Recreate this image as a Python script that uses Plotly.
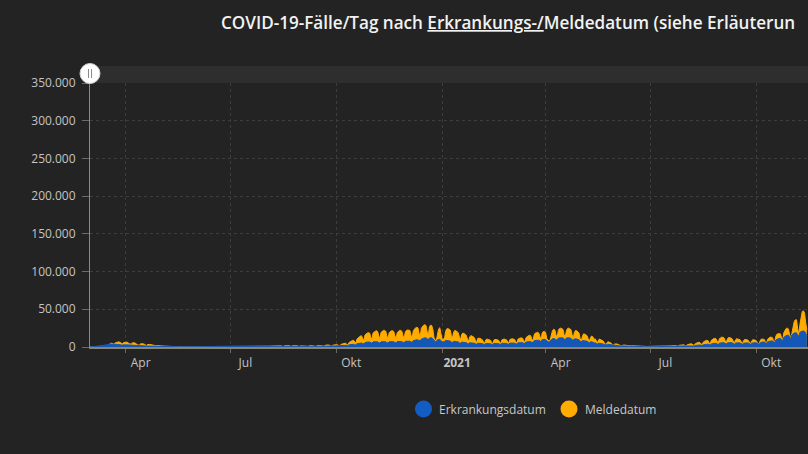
import pandas as pd
import plotly.graph_objects as go

# Meldedatum (Tausend Fälle/Tag), täglich ab So 01.03.2020
melde_k = [
    # 2020-03
    0.0,0.1,0.1,0.1,0.2,0.2,0.2, 0.3,0.5,0.6,0.7,0.9,1.2,1.5, 1.6,2.4,3.0,3.8,4.5,5.2,4.0,
    3.5,5.6,6.2,6.5,6.8,6.2,4.8, 4.2,5.5,6.5,
    # 2020-04
    6.4,6.3,6.0,4.5, 3.8,4.8,5.5,5.8,5.4,4.0,3.2, 2.6,2.8,4.2,4.6,4.2,3.8,2.6,
    2.0,3.2,3.6,3.4,3.1,2.7,1.8, 1.2,1.8,1.9,1.7,1.6,
    # 2020-05
    1.2,0.8, 0.6,1.0,1.1,1.1,1.0,0.9,0.6, 0.4,0.8,0.9,0.8,0.8,0.7,0.5,
    0.3,0.6,0.7,0.6,0.5,0.6,0.4, 0.3,0.4,0.5,0.5,0.5,0.4,0.3, 0.2,
    # 2020-06
    0.2,0.4,0.4,0.4,0.4,0.3, 0.2,0.3,0.4,0.4,0.4,0.4,0.3, 0.2,0.4,0.5,0.6,0.7,0.8,0.5,
    0.4,0.6,0.7,0.6,0.6,0.5,0.3, 0.2,0.4,0.5,
    # 2020-07
    0.5,0.4,0.4,0.3, 0.2,0.4,0.4,0.5,0.5,0.4,0.3, 0.2,0.4,0.5,0.5,0.6,0.6,0.4,
    0.3,0.6,0.7,0.8,0.8,0.8,0.6, 0.4,0.8,0.9,1.0,1.0,1.0,
    # 2020-08
    0.7, 0.4,1.0,1.1,1.2,1.3,1.3,0.9, 0.6,1.3,1.5,1.6,1.6,1.5,1.0,
    0.7,1.6,1.8,1.8,1.9,1.8,1.2, 0.8,1.6,1.8,1.9,1.8,1.7,1.1, 0.7,1.5,
    # 2020-09
    1.6,1.7,1.7,1.6,1.1, 0.7,1.6,1.8,1.9,1.9,1.8,1.2, 0.8,1.8,2.0,2.1,2.2,2.1,1.5,
    1.0,2.2,2.5,2.6,2.7,2.5,1.7, 1.1,2.4,2.8,3.0,
    # 2020-10
    3.0,2.9,2.0, 1.5,3.4,4.0,4.5,5.0,5.2,3.6, 2.6,5.8,7.0,7.8,8.6,9.0,6.4,
    5.0,10.5,12.0,13.5,14.5,14.8,10.5, 8.0,16.0,17.5,18.5,19.0,18.5,13.0,
    # 2020-11
    10.0,18.5,20.0,21.0,21.5,20.5,14.5, 11.0,19.5,21.5,22.0,22.0,21.0,14.5,
    11.0,19.0,21.0,21.5,21.5,20.5,14.5, 11.5,19.0,21.0,22.0,22.0,21.0,14.8, 11.5,19.5,
    # 2020-12
    22.0,22.5,22.5,22.0,15.5, 12.0,21.5,24.5,25.5,26.0,25.5,18.0,
    14.0,25.0,28.0,29.0,29.5,28.5,20.0, 15.5,26.5,29.0,28.5,23.0,12.0,9.0,
    8.5,19.0,24.0,25.5,18.0,
    # 2021-01
    10.0,11.0, 10.0,20.5,24.0,24.5,23.5,22.5,15.5, 11.5,19.5,22.0,21.5,20.5,19.0,13.0,
    9.5,16.5,18.5,18.0,17.0,15.5,10.5, 7.5,13.5,15.0,14.5,13.5,12.5,8.5, 6.0,
    # 2021-02
    11.5,12.0,11.5,10.5,9.5,6.5, 5.0,9.5,10.5,10.0,9.5,9.0,6.0,
    4.5,9.0,10.0,9.8,9.5,9.0,6.3, 5.0,9.5,10.5,10.5,10.0,9.5,6.8, 5.3,
    # 2021-03
    10.0,11.0,11.0,10.5,10.0,7.0, 5.5,10.5,11.5,12.0,12.0,11.5,8.0,
    6.5,12.5,14.0,15.0,15.5,15.0,10.5, 8.0,16.0,18.5,19.0,19.5,18.5,13.0, 9.5,18.5,20.5,20.5,
    # 2021-04
    19.0,11.0,9.0, 7.5,10.0,17.5,22.0,23.5,22.5,16.0, 12.0,22.0,24.5,25.0,24.5,23.5,16.5,
    12.5,21.5,24.5,25.0,24.0,23.0,16.0, 11.5,19.5,22.0,21.5,20.0,18.5,
    # 2021-05
    11.0, 8.0,14.5,17.5,17.0,16.0,15.0,10.5, 7.5,12.5,14.5,13.5,10.0,11.0,8.0,
    5.5,9.5,10.5,9.5,9.0,8.0,5.5, 3.5,4.5,7.0,6.5,6.0,5.0,3.5, 2.5,4.0,
    # 2021-06
    4.5,4.0,3.3,2.8,2.0, 1.4,2.4,2.7,2.5,2.2,2.0,1.4, 1.0,1.6,1.7,1.6,1.4,1.3,0.9,
    0.6,1.0,1.1,1.0,0.9,0.8,0.6, 0.4,0.7,0.8,0.8,
    # 2021-07
    0.8,0.7,0.5, 0.4,0.7,0.8,0.9,0.9,0.9,0.6, 0.4,0.9,1.1,1.3,1.4,1.4,1.0,
    0.6,1.4,1.8,2.0,2.1,2.0,1.5, 0.9,2.2,2.6,2.9,3.0,2.9,2.1,
    # 2021-08
    1.3,3.0,3.7,4.0,4.2,4.1,2.9, 1.9,4.3,5.4,5.8,6.2,6.0,4.2, 2.8,6.5,7.8,8.4,8.8,8.6,6.0,
    4.0,9.0,10.5,11.0,11.5,11.0,7.8, 5.0,11.0,12.5,
    # 2021-09
    13.0,12.8,12.0,8.5, 5.5,11.0,12.5,12.5,12.0,11.0,7.8, 5.0,9.5,11.0,10.5,10.0,9.5,6.8,
    4.3,8.5,10.0,9.8,9.5,9.0,6.3, 4.0,8.0,9.5,9.5,9.3,
    # 2021-10
    8.5,5.8, 3.8,6.5,10.0,10.5,10.5,10.0,7.0, 4.5,10.5,12.5,13.0,13.0,12.5,8.5,
    6.0,14.0,17.0,17.5,18.0,17.5,12.0, 8.5,19.0,23.0,24.5,25.0,24.0,16.5, 11.5,
    # 2021-11
    18.0,29.0,33.5,36.0,36.0,24.5, 17.0,30.0,40.0,47.0,48.0,45.0,32.0, 23.0,
]

# Erkrankungsdatum (Tausend Fälle/Tag), täglich ab So 01.03.2020
erkr_k = [
    # 2020-03
    0.1,0.2,0.2,0.3,0.4,0.5,0.5, 0.7,1.0,1.3,1.6,2.0,2.4,2.5, 2.8,3.4,3.6,3.8,3.9,3.8,3.3,
    3.1,3.7,3.7,3.6,3.5,3.3,2.8, 2.5,3.1,3.0,
    # 2020-04
    2.9,2.8,2.6,2.2, 1.9,2.4,2.3,2.2,2.0,1.8,1.5, 1.3,1.5,1.7,1.6,1.5,1.4,1.1,
    0.9,1.2,1.2,1.1,1.0,0.9,0.7, 0.6,0.8,0.8,0.7,0.7,
    # 2020-05
    0.5,0.4, 0.4,0.6,0.6,0.6,0.5,0.5,0.4, 0.3,0.5,0.5,0.5,0.4,0.4,0.3,
    0.3,0.4,0.4,0.4,0.3,0.3,0.2, 0.2,0.3,0.3,0.3,0.3,0.3,0.2, 0.2,
    # 2020-06
    0.2,0.2,0.2,0.2,0.2,0.2, 0.2,0.2,0.2,0.3,0.3,0.3,0.2, 0.2,0.3,0.4,0.4,0.4,0.4,0.3,
    0.2,0.3,0.3,0.3,0.3,0.3,0.2, 0.2,0.3,0.3,
    # 2020-07
    0.3,0.2,0.2,0.2, 0.2,0.2,0.3,0.3,0.3,0.3,0.2, 0.2,0.3,0.3,0.3,0.3,0.3,0.3,
    0.2,0.4,0.4,0.4,0.4,0.4,0.3, 0.3,0.5,0.5,0.5,0.5,0.5,
    # 2020-08
    0.4, 0.4,0.6,0.6,0.6,0.6,0.6,0.5, 0.5,0.7,0.7,0.7,0.7,0.7,0.6,
    0.5,0.8,0.8,0.8,0.8,0.8,0.6, 0.5,0.8,0.8,0.8,0.8,0.7,0.6, 0.5,0.7,
    # 2020-09
    0.7,0.7,0.7,0.7,0.6, 0.5,0.8,0.8,0.8,0.8,0.8,0.6, 0.6,0.9,0.9,0.9,1.0,0.9,0.7,
    0.7,1.1,1.1,1.1,1.2,1.1,0.9, 0.8,1.3,1.4,1.4,
    # 2020-10
    1.5,1.5,1.2, 1.1,1.8,2.0,2.1,2.2,2.2,1.8, 1.7,2.8,3.2,3.4,3.6,3.6,3.0,
    2.8,4.3,4.8,5.1,5.3,5.3,4.5, 4.2,6.0,6.4,6.6,6.7,6.5,5.5,
    # 2020-11
    5.0,6.8,7.0,7.1,7.0,6.8,5.8, 5.2,7.0,7.2,7.2,7.1,6.9,5.8,
    5.3,7.1,7.3,7.3,7.2,7.0,5.9, 5.4,7.3,7.5,7.5,7.4,7.2,6.1, 5.6,7.6,
    # 2020-12
    7.8,7.9,7.9,7.7,6.6, 6.2,8.5,9.0,9.3,9.5,9.4,8.2,
    7.8,10.5,11.3,11.8,12.2,12.0,10.5, 9.8,12.0,12.5,12.2,10.8,8.0,7.0,
    7.0,9.5,10.0,10.0,8.5,
    # 2021-01
    6.8,7.0, 6.8,8.8,8.8,8.5,8.2,7.9,6.6, 6.0,7.6,7.6,7.3,7.0,6.7,5.6,
    5.0,6.5,6.5,6.3,6.0,5.8,4.8, 4.4,5.6,5.6,5.4,5.2,5.0,4.2, 3.8,
    # 2021-02
    5.0,5.0,4.9,4.7,4.5,3.8, 3.4,4.6,4.7,4.6,4.5,4.4,3.7,
    3.4,4.6,4.7,4.7,4.6,4.5,3.8, 3.6,4.9,5.0,5.0,4.9,4.8,4.0, 3.8,
    # 2021-03
    5.2,5.3,5.3,5.2,5.1,4.3, 4.1,5.6,5.8,5.9,5.9,5.8,4.9,
    4.7,6.6,7.0,7.2,7.3,7.2,6.1, 5.9,8.2,8.7,8.9,9.0,8.8,7.5, 7.2,9.8,10.3,10.2,
    # 2021-04
    9.5,7.5,7.0, 6.5,7.8,10.0,11.0,11.2,11.0,9.5, 9.0,11.8,12.3,12.4,12.3,12.0,10.3,
    9.5,12.0,12.4,12.3,12.0,11.5,9.8, 8.8,10.8,11.0,10.7,10.2,9.6,
    # 2021-05
    7.5, 6.8,8.6,8.6,8.3,7.9,7.5,6.2, 5.5,7.0,6.9,6.5,5.4,5.5,4.6,
    4.1,5.0,4.9,4.6,4.3,4.0,3.2, 2.7,2.9,3.6,3.4,3.1,2.8,2.2, 1.9,2.4,
    # 2021-06
    2.3,2.1,1.8,1.6,1.3, 1.1,1.4,1.4,1.3,1.2,1.1,0.9, 0.7,0.9,0.9,0.8,0.8,0.7,0.6,
    0.5,0.6,0.6,0.6,0.5,0.5,0.4, 0.3,0.4,0.4,0.4,
    # 2021-07
    0.4,0.4,0.3, 0.3,0.4,0.4,0.5,0.5,0.5,0.4, 0.3,0.5,0.6,0.6,0.7,0.7,0.6,
    0.5,0.8,0.9,1.0,1.0,1.0,0.8, 0.7,1.1,1.2,1.3,1.4,1.4,1.1,
    # 2021-08
    0.9,1.5,1.7,1.8,1.9,1.9,1.6, 1.3,2.1,2.4,2.6,2.7,2.7,2.3, 1.9,3.0,3.4,3.6,3.8,3.8,3.2,
    2.6,4.1,4.6,4.8,5.0,4.9,4.1, 3.3,5.1,5.6,
    # 2021-09
    5.8,5.8,5.6,4.7, 3.8,5.5,5.9,5.9,5.8,5.6,4.7, 3.7,5.2,5.6,5.6,5.5,5.3,4.5,
    3.6,5.1,5.5,5.5,5.4,5.3,4.5, 3.6,5.1,5.6,5.7,5.7,
    # 2021-10
    5.6,4.7, 3.8,5.0,6.2,6.5,6.6,6.6,5.6, 4.6,6.9,7.6,7.9,8.1,8.1,6.9,
    5.8,9.2,10.3,10.8,11.2,11.3,9.6, 8.2,12.8,14.3,15.1,15.6,15.7,13.4, 11.0,
    # 2021-11
    16.0,18.0,18.5,18.8,18.8,16.2, 13.8,19.5,20.5,21.0,21.2,20.8,18.0, 15.0,
]

start_date = "2020-03-01"
x_range = ["2020-03-01", "2021-11-15"]
y_ticks = [0, 50000, 100000, 150000, 200000, 250000, 300000, 350000]
x_tick_dates = ["2020-04-01", "2020-07-01", "2020-10-01", "2021-01-01",
                "2021-04-01", "2021-07-01", "2021-10-01"]
x_tick_text = ["Apr", "Jul", "Okt", "<b>2021</b>", "Apr", "Jul", "Okt"]
series_names = ["Erkrankungsdatum", "Meldedatum"]
title_text = "COVID-19-Fälle/Tag nach <u>Erkrankungs-/</u>Meldedatum (siehe Erläuterun"

n = min(len(melde_k), len(erkr_k))
dates = pd.date_range(start_date, periods=n, freq="D")
melde = [v * 1000 for v in melde_k[:n]]
erkr = [v * 1000 for v in erkr_k[:n]]

BLUE = "#1457b6"
ORANGE = "#ffab00"
BG = "#232323"

fig = go.Figure()
fig.add_trace(go.Scatter(x=dates, y=melde, mode="lines", fill="tozeroy",
                         line=dict(color=ORANGE, width=1), fillcolor=ORANGE,
                         name=series_names[1], showlegend=False, hoverinfo="skip"))
fig.add_trace(go.Scatter(x=dates, y=erkr, mode="lines", fill="tozeroy",
                         line=dict(color=BLUE, width=1), fillcolor=BLUE,
                         name=series_names[0], showlegend=False, hoverinfo="skip"))

W, H = 808, 454
L, R, T, B = 90, 0, 83, 107
pw, ph = W - L - R, H - T - B


def px_x(px):
    return (px - L) / pw


def px_y(py):
    return (H - B - py) / ph


shapes = [
    # scrollbar band
    dict(type="rect", xref="paper", yref="paper", x0=0, x1=1.2,
         y0=px_y(83), y1=px_y(66), fillcolor="#2e2e2e", line_width=0, layer="below"),
    # grip
    dict(type="circle", xref="paper", yref="paper",
         x0=px_x(80), x1=px_x(100), y0=px_y(83.5), y1=px_y(63.5),
         fillcolor="#ffffff", line=dict(color="#d0d0d0", width=1)),
    dict(type="line", xref="paper", yref="paper", x0=px_x(88.5), x1=px_x(88.5),
         y0=px_y(78), y1=px_y(69), line=dict(color="#8a8a8a", width=1)),
    dict(type="line", xref="paper", yref="paper", x0=px_x(91.5), x1=px_x(91.5),
         y0=px_y(78), y1=px_y(69), line=dict(color="#8a8a8a", width=1)),
    # legend markers
    dict(type="circle", xref="paper", yref="paper",
         x0=px_x(415), x1=px_x(432), y0=px_y(417.5), y1=px_y(400.5),
         fillcolor="#135cc4", line_width=0),
    dict(type="circle", xref="paper", yref="paper",
         x0=px_x(560.5), x1=px_x(577.5), y0=px_y(417.5), y1=px_y(400.5),
         fillcolor=ORANGE, line_width=0),
]

annotations = [
    dict(xref="paper", yref="paper", x=px_x(219), y=px_y(22), xanchor="left",
         yanchor="middle", showarrow=False, text=title_text,
         font=dict(family="Open Sans", size=17.1, color="#f2f2f2", weight=600)),
    dict(xref="paper", yref="paper", x=px_x(437), y=px_y(409), xanchor="left",
         yanchor="middle", showarrow=False, text=series_names[0],
         font=dict(family="Open Sans", size=12, color="#c8c8c8")),
    dict(xref="paper", yref="paper", x=px_x(583), y=px_y(409), xanchor="left",
         yanchor="middle", showarrow=False, text=series_names[1],
         font=dict(family="Open Sans", size=12, color="#c8c8c8")),
]

fig.update_layout(
    width=W, height=H,
    margin=dict(l=L, r=R, t=T, b=B, pad=0),
    paper_bgcolor=BG, plot_bgcolor=BG,
    separators=",.",
    showlegend=False,
    shapes=shapes,
    annotations=annotations,
    font=dict(family="Open Sans", color="#c0c0c0", size=12),
)

fig.update_xaxes(
    type="date", range=x_range,
    tickvals=x_tick_dates, ticktext=x_tick_text,
    ticklabelshift=15,
    tickfont=dict(size=12, color="#c4c4c4"),
    ticks="outside", ticklen=4, tickcolor="#6a6a6a",
    showgrid=True, gridcolor="#3d3d3d", griddash="3px,3px", gridwidth=1,
    showline=True, linecolor="#8a8472", linewidth=2,
    zeroline=False,
)
fig.update_yaxes(
    range=[0, 350000], tickvals=y_ticks, tickformat=",d",
    tickfont=dict(size=12, color="#c4c4c4"),
    ticks="outside", ticklen=7, tickcolor="#6a6a6a",
    ticklabelstandoff=4,
    showgrid=True, gridcolor="#3d3d3d", griddash="3px,3px", gridwidth=1,
    showline=True, linecolor="#8a8a8a", linewidth=1,
    zeroline=False,
)

fig.write_html(
    "out.html",
    config={"displayModeBar": False},
    post_script="document.body.style.margin='0px';"
                "document.body.style.background='#232323';"
                "document.body.style.overflow='hidden';",
)
